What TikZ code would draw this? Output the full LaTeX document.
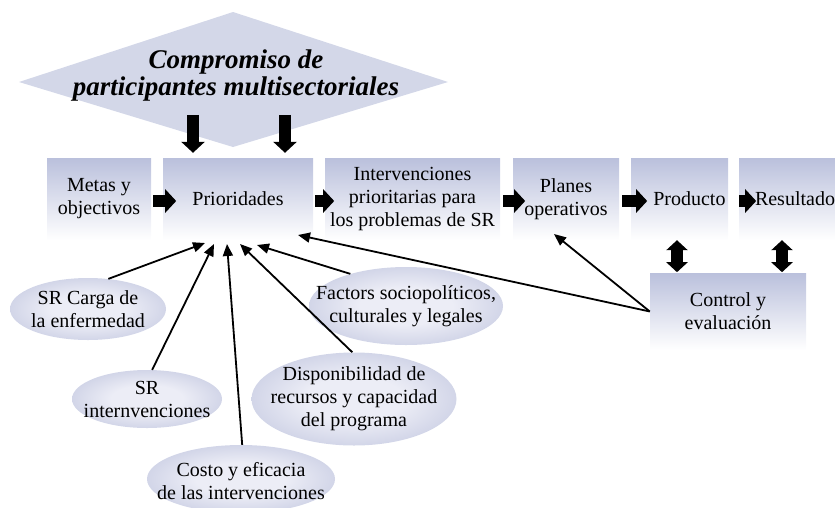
\documentclass[tikz,border=0pt]{standalone}
\usepackage{fontspec}
\setmainfont{Liberation Serif}
\usetikzlibrary{arrows.meta,shapes.geometric}

\definecolor{diam}{RGB}{211,215,232}
\definecolor{boxtop}{RGB}{186,192,220}
\definecolor{elin}{RGB}{236,237,246}
\definecolor{elout}{RGB}{160,168,205}

\pgfdeclareradialshading{ellshade}{\pgfpoint{0bp}{0bp}}{color(0bp)=(elin); color(12bp)=(elin); color(50bp)=(elout); color(100bp)=(elout)}

\begin{document}
\begin{tikzpicture}[x=1pt,y=-1pt,
  txt/.style={font=\fontsize{20}{23}\selectfont, align=center},
  box/.style={txt, rectangle, inner sep=0pt, top color=boxtop, bottom color=white, minimum height=82pt},
  ell/.style={ellipse, inner sep=0pt, shading=ellshade},
  conn/.style={line width=1.8pt, -{Triangle[length=12pt,width=10pt]}},
  fat/.style={line width=12pt, -{Triangle[length=11pt,width=23pt]}},
  dbl/.style={line width=12pt, {Triangle[length=10pt,width=21pt]}-{Triangle[length=10pt,width=21pt]}}
]
\useasboundingbox (0,0) rectangle (835,507);

% diamond
\fill[diam] (19,82) -- (233,12) -- (448,82) -- (233,147) -- cycle;
\node[font=\fontsize{27}{27}\selectfont\bfseries\itshape, align=center] (title) at (236,76)
  {Compromiso de\\participantes multisectoriales};

% top row boxes
\node[box, minimum width=104pt] (b1) at (99,199) {Metas y\\objectivos};
\node[box, minimum width=150pt] (b2) at (238,199) {Prioridades};
\node[box, minimum width=175pt] (b3) at (412.5,199) {Intervenciones\\prioritarias para\\los problemas de SR};
\node[box, minimum width=106pt] (b4) at (566,199) {Planes\\operativos};
\node[box, minimum width=97pt, text width=92pt, align=right] (b5) at (679.5,199) {Producto};
\node[box, minimum width=96pt, text width=96pt, align=right] (b6) at (787,199) {Resultado};
\node[box, minimum width=156pt, minimum height=77pt] (ctrl) at (728,311.5) {Control y\\evaluación};

% ellipses
\node[ell, minimum width=156pt, minimum height=62pt,
  label={[txt]center:{SR Carga de\\la enfermedad}}] (e1) at (88,309) {};
\node[ell, minimum width=150pt, minimum height=58pt,
  label={[txt]center:{SR\\internvenciones}}] (e2) at (147,399) {};
\node[ell, minimum width=188pt, minimum height=68pt,
  label={[txt, yshift=-2pt]center:{Costo y eficacia\\de las intervenciones}}] (e3) at (241,479) {};
\node[ell, minimum width=205pt, minimum height=93pt,
  label={[txt]center:{Disponibilidad de\\recursos y capacidad\\del programa}}] (e4) at (354,399) {};
\node[ell, minimum width=194pt, minimum height=78pt,
  label={[txt]center:{Factors sociopolíticos,\\culturales y legales}}] (e5) at (406,306) {};

% arrow targets
\coordinate (t1) at (205,243);
\coordinate (t2) at (214,244);
\coordinate (t3) at (227,244);
\coordinate (t4) at (240,244);
\coordinate (t5) at (257,245);
\coordinate (t6) at (298,235);
\coordinate (t7) at (554,234);

% thin connectors
\draw[conn] (e1.56) -- (t1);
\draw[conn] (e2.80) -- (t2);
\draw[conn] (e3.88) -- (t3);
\draw[conn] (e4.92) -- (t4);
\draw[conn] (e5.150) -- (t5);
\draw[conn] (ctrl.west) -- (t6);
\draw[conn] (ctrl.west) -- (t7);

% fat arrows
\draw[fat] ([shift={(2,2)}]b1.east) -- ([shift={(25,2)}]b1.east);
\draw[fat] ([shift={(2,2)}]b2.east) -- ([shift={(21,2)}]b2.east);
\draw[fat] ([shift={(3,2)}]b3.east) -- ([shift={(25,2)}]b3.east);
\draw[fat] ([shift={(3,2)}]b4.east) -- ([shift={(28,2)}]b4.east);
\draw[fat] ([shift={(11,2)}]b5.east) -- ([shift={(28,2)}]b5.east);

\draw[fat] ([shift={(-45,-43)}]b2.north) -- ([shift={(-45,-5)}]b2.north);
\draw[fat] ([shift={(47,-43)}]b2.north) -- ([shift={(47,-5)}]b2.north);

\draw[dbl] ([shift={(-2.5,0)}]b5.south) -- ([shift={(-2.5,32)}]b5.south);
\draw[dbl] ([shift={(-5,0)}]b6.south) -- ([shift={(-5,32)}]b6.south);
\end{tikzpicture}
\end{document}
